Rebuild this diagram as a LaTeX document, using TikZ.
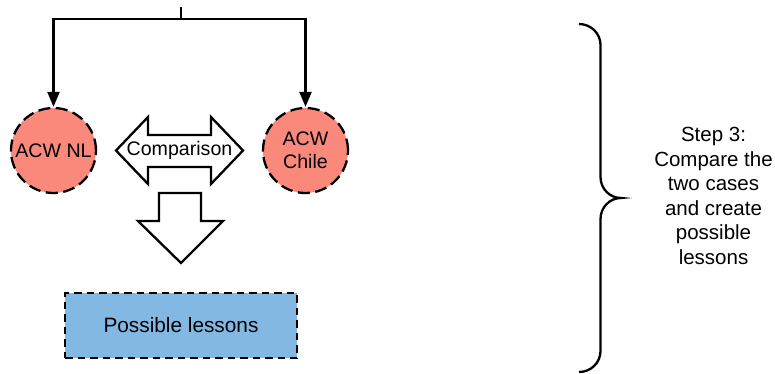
\documentclass[tikz,border=0pt]{standalone}
\usepackage{fontspec}
\setmainfont{Liberation Sans}
\usetikzlibrary{arrows.meta}
\definecolor{salmon}{RGB}{250,137,124}
\definecolor{lightblue}{RGB}{131,184,227}
\tikzset{
  txt/.style={font=\fontsize{20.5}{24.5}\selectfont, align=center, inner sep=0pt},
  cmptxt/.style={font=\fontsize{19.6}{23}\selectfont, inner sep=0pt},
  casecircle/.style={circle, draw=black, fill=salmon, line width=2.3pt, dash pattern=on 12pt off 5.5pt, minimum size=85pt, inner sep=0pt, align=center, font=\fontsize{19.6}{23}\selectfont},
  lessonbox/.style={draw=black, fill=lightblue, line width=2.3pt, dash pattern=on 7.5pt off 5pt, minimum width=232pt, minimum height=65pt, inner sep=0pt, font=\fontsize{20.8}{23}\selectfont},
  conn/.style={line width=2.3pt, -{Triangle[length=15pt,width=12pt]}},
  bigarrow/.style={draw=black, fill=white, line width=2.3pt, line join=miter},
}
\begin{document}
\begin{tikzpicture}[x=1pt,y=-1pt]
\useasboundingbox (0,0) rectangle (775,373);
% circles
\node[casecircle] (nl) at (53.5,150.5) {ACW NL};
\node[casecircle] (cl) at (305.5,150.5) {ACW\\Chile};
% connectors
\coordinate (top) at (181,7);
\coordinate (split) at (181,19);
\draw[line width=2.3pt] (top) -- (split);
\draw[conn] (split) -| (nl.north);
\draw[conn] (split) -| (cl.north);
% double arrow
\draw[bigarrow] (116,150.5) -- (148,117) -- (148,135) -- (211,135) -- (211,117) -- (243,150.5)
  -- (211,184) -- (211,167) -- (148,167) -- (148,184) -- cycle;
\node[cmptxt] (cmp) at (179.5,150) {Comparison};
% down arrow
\draw[bigarrow] (159,193) -- (201,193) -- (201,221) -- (223,221) -- (181,263) -- (138,221) -- (159,221) -- cycle;
% lessons box
\node[lessonbox] (les) at (181,325.5) {Possible lessons};
% brace
\draw[line width=2.3pt] (579,24) to[out=0,in=90] (600.5,45) -- (600.5,177) to[out=-90,in=180] (621,198)
  to[out=180,in=90] (600.5,219) -- (600.5,351) to[out=-90,in=0] (579,372);
\node[txt] (step) at (713.5,196) {Step 3:\\Compare the\\two cases\\and create\\possible\\lessons};
\end{tikzpicture}
\end{document}
